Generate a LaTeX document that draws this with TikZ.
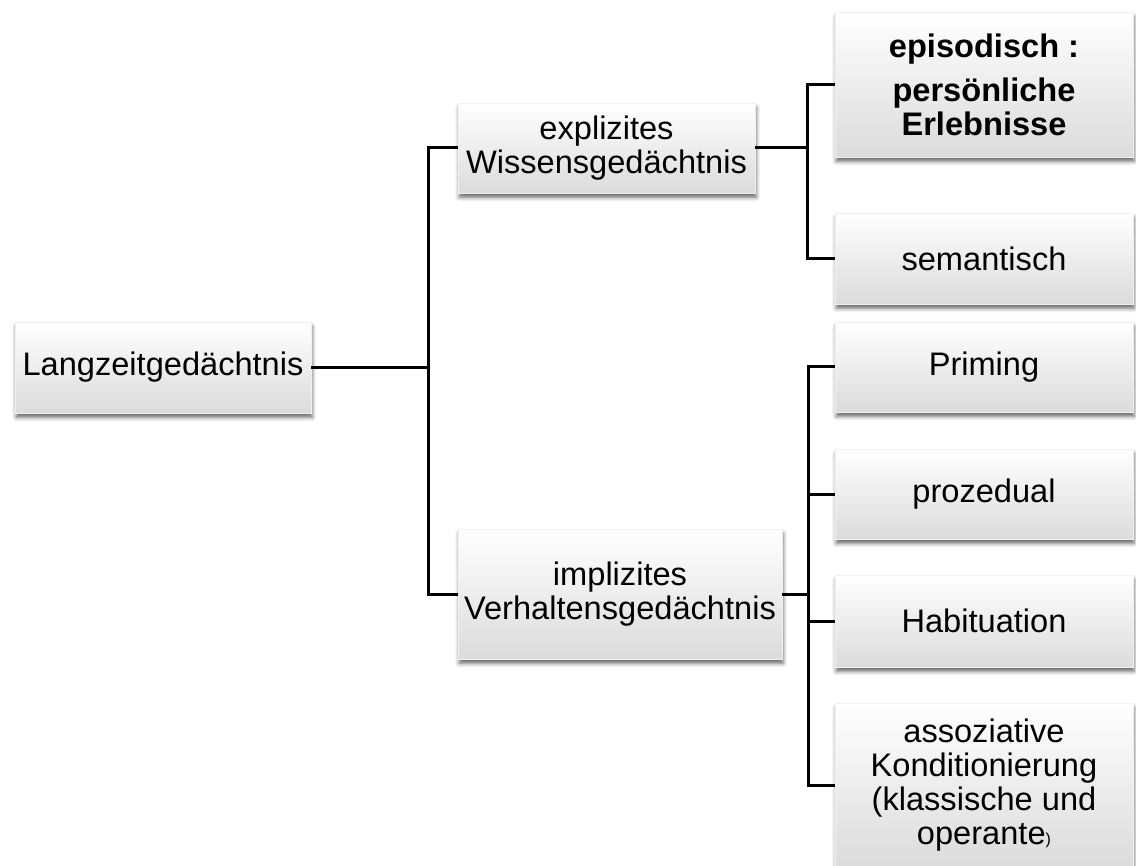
\documentclass[tikz,border=0pt]{standalone}
\usepackage{fontspec}
\setmainfont{Liberation Sans}
\usetikzlibrary{shadows.blur}
\begin{document}
\begin{tikzpicture}[x=0.5pt,y=-0.5pt,
  box/.style={rectangle, draw=black!6, line width=0.3pt, top color=white, bottom color=black!14,
    align=center, inner sep=0pt,
    font=\fontsize{16.3pt}{17pt}\selectfont,
    blur shadow={shadow xshift=0.6pt, shadow yshift=-2.2pt, shadow blur radius=2pt, shadow opacity=60}},
  conn/.style={line width=1.5pt, line join=miter}]
\useasboundingbox (0,0) rectangle (1136,866);
\begin{scope}
\clip (0,0) rectangle (1136,866);
% nodes
\node[box, minimum width=148pt, minimum height=45.5pt] (L) at (163,367.5) {Langzeitgedächtnis};
\node[box, minimum width=148.5pt, minimum height=45pt] (E) at (606.5,148) {explizites\\Wissensgedächtnis};
\node[box, minimum width=162pt, minimum height=65pt] (I) at (620,594) {implizites\\Verhaltensgedächtnis};
\node[box, minimum width=149pt, minimum height=72.5pt, font=\fontsize{16.3pt}{17pt}\selectfont\bfseries] (ep) at (984,84.5) {episodisch :\\[5pt]persönliche\\Erlebnisse};
\node[box, minimum width=149pt, minimum height=45.5pt] (sem) at (984,258.5) {semantisch};
\node[box, minimum width=149pt, minimum height=45pt] (pri) at (984,367) {Priming};
\node[box, minimum width=149pt, minimum height=45pt] (pro) at (984,494) {prozedual};
\node[box, minimum width=149pt, minimum height=46pt] (hab) at (984,621) {Habituation};
\node[box, minimum width=149pt, minimum height=82pt] (ass) at (984,785) {assoziative\\Konditionierung\\(klassische und\\operante{\fontsize{8pt}{9pt}\selectfont)}};
% junctions
\coordinate (j1) at (428,367.5);
\coordinate (j2) at (807,148);
\coordinate (j3) at (808,594);
% connectors
\draw[conn] (L.east) -- (j1);
\draw[conn] (E.west) -| (j1);
\draw[conn] (I.west) -| (j1);
\draw[conn] (E.east) -- (j2);
\draw[conn] (ep.west) -| (j2);
\draw[conn] (sem.west) -| (j2);
\draw[conn] (I.east) -- (j3);
\draw[conn] (pri.west) -| (j3);
\draw[conn] (pro.west) -| (j3);
\draw[conn] (hab.west) -| (j3);
\draw[conn] (ass.west) -| (j3);
\end{scope}
\end{tikzpicture}
\end{document}
